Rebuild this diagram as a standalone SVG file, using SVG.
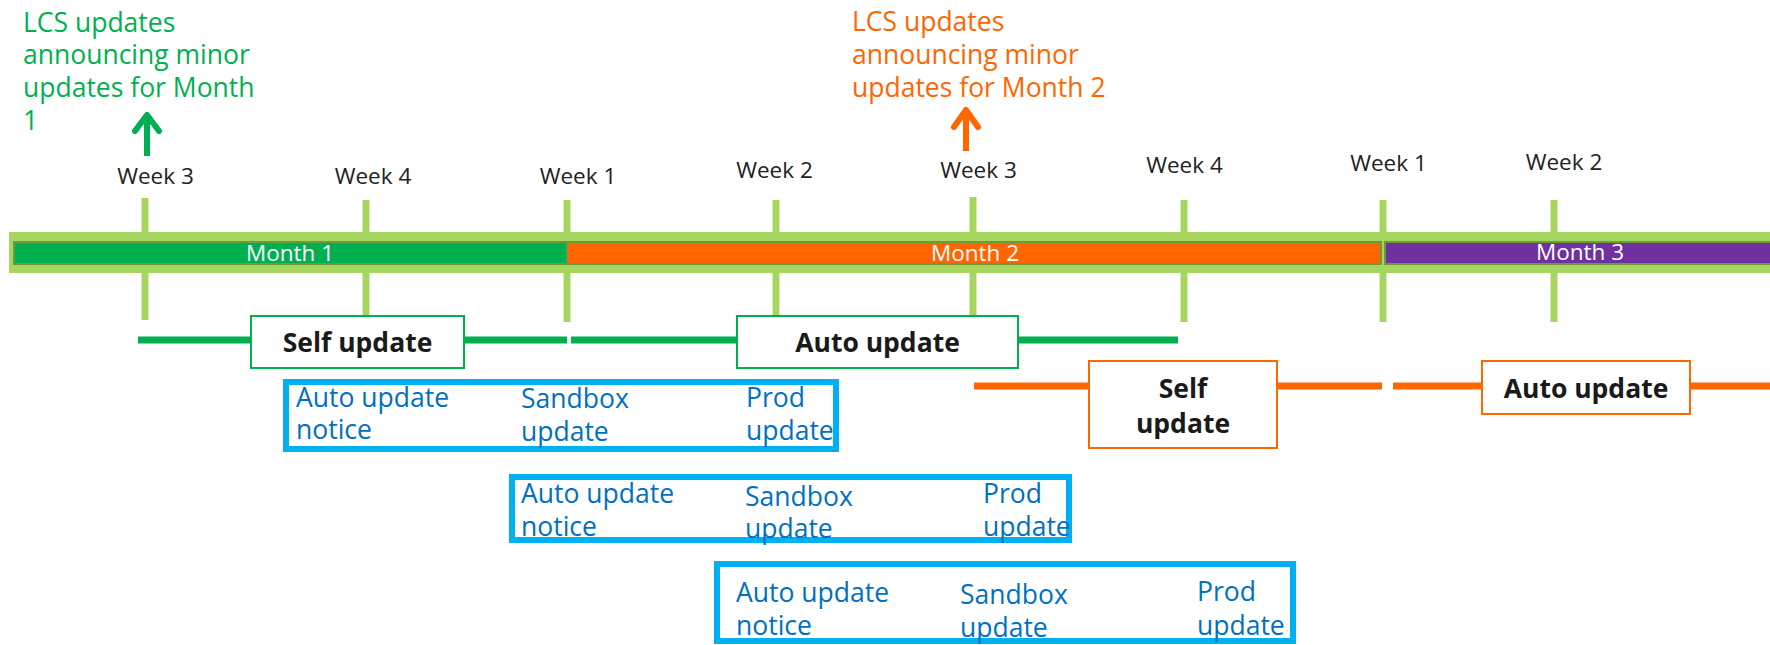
<svg xmlns="http://www.w3.org/2000/svg" width="1770" height="645" viewBox="0 0 1770 645">
  <style>
    text { font-family: "Open Sans", "Noto Sans", "Liberation Sans", sans-serif; }
    .ann { font-size: 26.5px; }
    .ann-g { fill: #00B050; }
    .ann-o { fill: #FF6600; }
    .week { font-size: 22.5px; fill: #222222; text-anchor: middle; }
    .month { font-size: 22.5px; fill: #FFFFFF; text-anchor: middle; }
    .tick { stroke: #A6D65F; stroke-width: 7; }
    .mseg { stroke: #6E9A3C; stroke-width: 2; }
    .bold { font-size: 26.5px; font-weight: bold; fill: #1A1A1A; text-anchor: middle; }
    .gbox { fill: #FFFFFF; stroke: #00B050; stroke-width: 2; }
    .obox { fill: #FFFFFF; stroke: #FF6600; stroke-width: 2; }
    .gline { stroke: #00B050; stroke-width: 7; }
    .oline { stroke: #FF6600; stroke-width: 7; }
    .bbox { fill: none; stroke: #00B0F0; stroke-width: 6; }
    .btxt { font-size: 26.5px; fill: #0070C0; }
  </style>

  <g id="timeline">
    <line class="tick" x1="145" y1="198" x2="145" y2="320"/>
    <line class="tick" x1="366" y1="200" x2="366" y2="322"/>
    <line class="tick" x1="567" y1="200" x2="567" y2="322"/>
    <line class="tick" x1="776" y1="200" x2="776" y2="322"/>
    <line class="tick" x1="973" y1="197" x2="973" y2="319"/>
    <line class="tick" x1="1184" y1="200" x2="1184" y2="322"/>
    <line class="tick" x1="1383" y1="200" x2="1383" y2="322"/>
    <line class="tick" x1="1554" y1="200" x2="1554" y2="322"/>
    <rect x="9" y="232" width="1761" height="41" fill="#A6D65F"/>
    <rect class="mseg" x="14" y="242" width="553" height="22" fill="#00B050"/>
    <rect class="mseg" x="567" y="242" width="814" height="22" fill="#FF6600"/>
    <rect class="mseg" x="1385" y="242" width="390" height="22" fill="#7030A0"/>
    <text class="month" x="290" y="261">Month 1</text>
    <text class="month" x="975" y="261">Month 2</text>
    <text class="month" x="1580" y="260">Month 3</text>
  </g>

  <g id="weeks">
    <text class="week" x="155.5" y="184">Week 3</text>
    <text class="week" x="373" y="184">Week 4</text>
    <text class="week" x="578" y="184">Week 1</text>
    <text class="week" x="774.5" y="178">Week 2</text>
    <text class="week" x="978.5" y="178">Week 3</text>
    <text class="week" x="1184.5" y="173">Week 4</text>
    <text class="week" x="1388.5" y="171">Week 1</text>
    <text class="week" x="1564" y="170">Week 2</text>
  </g>

  <g id="note-month1">
    <text class="ann ann-g"><tspan x="23" y="32">LCS updates</tspan><tspan x="23" y="64">announcing minor</tspan><tspan x="23" y="97">updates for Month</tspan><tspan x="23" y="130">1</tspan></text>
  </g>

  <g id="note-month2">
    <text class="ann ann-o"><tspan x="852" y="31">LCS updates</tspan><tspan x="852" y="64">announcing minor</tspan><tspan x="852" y="97">updates for Month 2</tspan></text>
  </g>

  <g id="connectors" fill="none" stroke-linecap="butt">
    <g stroke="#00B050" stroke-width="6">
      <line x1="147" y1="156" x2="147" y2="116"/>
      <path d="M135,131 L147,115 L159,131" stroke-linejoin="round" stroke-linecap="round"/>
    </g>
    <g stroke="#FF6600" stroke-width="6">
      <line x1="966" y1="151" x2="966" y2="111"/>
      <path d="M954,127 L966,110 L978,127" stroke-linejoin="round" stroke-linecap="round"/>
    </g>
    <line class="gline" x1="138" y1="340" x2="251" y2="340"/>
    <line class="gline" x1="464" y1="340" x2="567" y2="340"/>
    <line class="gline" x1="571" y1="340" x2="737" y2="340"/>
    <line class="gline" x1="1018" y1="340" x2="1178" y2="340"/>
    <line class="oline" x1="974" y1="386" x2="1089" y2="386"/>
    <line class="oline" x1="1277" y1="386" x2="1382" y2="386"/>
    <line class="oline" x1="1393" y1="386" x2="1482" y2="386"/>
    <line class="oline" x1="1690" y1="386" x2="1770" y2="386"/>
  </g>

  <g id="self-update-1">
    <rect class="gbox" x="251" y="316" width="213" height="52"/>
    <text class="bold" x="357.5" y="352">Self update</text>
  </g>
  <g id="auto-update-1">
    <rect class="gbox" x="737" y="316" width="281" height="52"/>
    <text class="bold" x="877.5" y="352">Auto update</text>
  </g>
  <g id="self-update-2">
    <rect class="obox" x="1089" y="361" width="188" height="87"/>
    <text class="bold"><tspan x="1183" y="398">Self</tspan><tspan x="1183" y="433">update</tspan></text>
  </g>
  <g id="auto-update-2">
    <rect class="obox" x="1482" y="361" width="208" height="53"/>
    <text class="bold" x="1586" y="398">Auto update</text>
  </g>

  <g id="cycle-1">
    <rect class="bbox" x="286" y="382" width="550" height="67"/>
    <text class="btxt"><tspan x="296" y="407">Auto update</tspan><tspan x="296" y="439">notice</tspan></text>
    <text class="btxt"><tspan x="521" y="408">Sandbox</tspan><tspan x="521" y="441">update</tspan></text>
    <text class="btxt"><tspan x="746" y="407">Prod</tspan><tspan x="746" y="440">update</tspan></text>
  </g>
  <g id="cycle-2">
    <rect class="bbox" x="512" y="477" width="557" height="63"/>
    <text class="btxt"><tspan x="521" y="503">Auto update</tspan><tspan x="521" y="536">notice</tspan></text>
    <text class="btxt"><tspan x="745" y="506">Sandbox</tspan><tspan x="745" y="538">update</tspan></text>
    <text class="btxt"><tspan x="983" y="503">Prod</tspan><tspan x="983" y="536">update</tspan></text>
  </g>
  <g id="cycle-3">
    <rect class="bbox" x="717" y="564" width="576" height="77"/>
    <text class="btxt"><tspan x="736" y="602">Auto update</tspan><tspan x="736" y="635">notice</tspan></text>
    <text class="btxt"><tspan x="960" y="604">Sandbox</tspan><tspan x="960" y="637">update</tspan></text>
    <text class="btxt"><tspan x="1197" y="601">Prod</tspan><tspan x="1197" y="635">update</tspan></text>
  </g>
</svg>
